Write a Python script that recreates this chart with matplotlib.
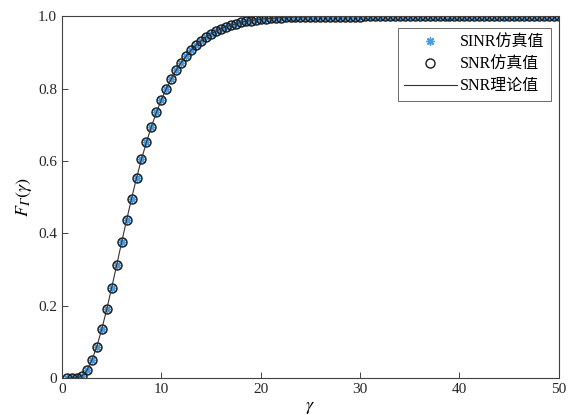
import numpy as np
import matplotlib
matplotlib.use('Agg')
import matplotlib.pyplot as plt

plt.rcParams['font.family'] = ['Liberation Serif', 'Noto Sans CJK SC']
plt.rcParams['mathtext.fontset'] = 'stix'

# ===== 数据 =====
gamma = np.arange(0.5, 50.5, 0.5)
cdf_vals = [
    0.000, 0.000, 0.001, 0.005, 0.021, 0.049, 0.087, 0.135, 0.190, 0.250,
    0.312, 0.375, 0.437, 0.496, 0.553, 0.605, 0.652, 0.695, 0.734, 0.769,
    0.800, 0.827, 0.851, 0.872, 0.890, 0.906, 0.920, 0.932, 0.942, 0.951,
    0.959, 0.965, 0.971, 0.975, 0.979, 0.983, 0.986, 0.988, 0.990, 0.992,
    0.993, 0.994, 0.995, 0.996, 0.997, 0.997, 0.998, 0.998, 0.998, 0.999,
    0.999, 0.999, 0.999, 0.999, 0.999, 0.999, 0.999, 0.999, 0.999, 0.999,
    1.000, 1.000, 1.000, 1.000, 1.000, 1.000, 1.000, 1.000, 1.000, 1.000,
    1.000, 1.000, 1.000, 1.000, 1.000, 1.000, 1.000, 1.000, 1.000, 1.000,
    1.000, 1.000, 1.000, 1.000, 1.000, 1.000, 1.000, 1.000, 1.000, 1.000,
    1.000, 1.000, 1.000, 1.000, 1.000, 1.000, 1.000, 1.000, 1.000, 1.000,
]
sinr_sim = list(cdf_vals)
snr_sim = list(cdf_vals)
snr_theory = list(cdf_vals)

labels = ['SINR仿真值', 'SNR仿真值', 'SNR理论值']

# ===== 绘图 =====
fig = plt.figure(figsize=(5.69, 4.15), dpi=100)
ax = fig.add_axes([0.109, 0.089, 0.873, 0.872])

ax.plot(gamma, sinr_sim, linestyle='none', marker=(8, 2, 0), markersize=6,
        color='#4a9be0', markeredgewidth=1.0, label=labels[0])
ax.plot(gamma, snr_sim, linestyle='none', marker='o', markersize=6.5,
        markerfacecolor='none', markeredgecolor='#1a1a1a', markeredgewidth=1.0,
        label=labels[1])
ax.plot(gamma, snr_theory, color='#333333', lw=0.8, label=labels[2])

ax.set_xlim(0, 50)
ax.set_ylim(0, 1.0)
ax.set_xticks([0, 10, 20, 30, 40, 50])
ax.set_yticks([0, 0.2, 0.4, 0.6, 0.8, 1.0])
ax.set_yticklabels(['0', '0.2', '0.4', '0.6', '0.8', '1.0'])
ax.tick_params(direction='in', length=4, width=0.6, colors='#262626',
               labelsize=11, top=False, right=False)
for s in ax.spines.values():
    s.set_linewidth(0.8)
    s.set_color('#404040')

ax.set_xlabel(r'$\gamma$', fontsize=13, labelpad=2)
ax.set_ylabel('$F_{\U0001D6E4}(\\gamma)$', fontsize=13, labelpad=3)

leg = ax.legend(loc='upper right', fontsize=11.5, fancybox=False,
                handlelength=3.3, borderpad=0.4, labelspacing=0.38,
                handletextpad=0.2, bbox_to_anchor=(1.0, 0.99))
leg.get_frame().set_edgecolor('#262626')
leg.get_frame().set_linewidth(0.6)

plt.savefig('out.png', dpi=100)
